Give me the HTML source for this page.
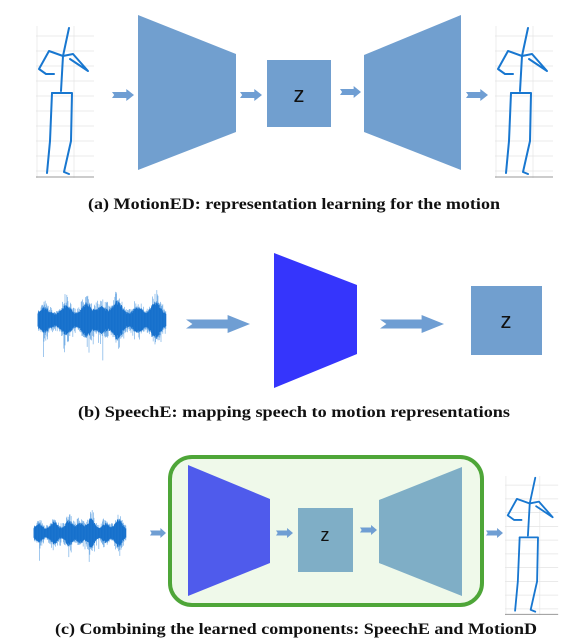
<!DOCTYPE html>
<html><head><meta charset="utf-8"><style>
html,body{margin:0;padding:0;background:#fff;width:580px;height:644px;overflow:hidden}
svg{display:block}
.cap{font-family:"Liberation Serif",serif;font-weight:bold;font-size:16px;fill:#111}
.z{font-family:"Liberation Sans",sans-serif;font-size:22px;fill:#111}
</style></head><body>
<svg id="s" width="580" height="644" viewBox="0 0 580 644" xmlns="http://www.w3.org/2000/svg">
<defs>
<symbol id="skel" viewBox="0 0 60 155" overflow="visible">
  <g stroke="#e4e4e4" stroke-width="0.7">
    <line x1="0" y1="10" x2="58" y2="10"/><line x1="0" y1="25" x2="58" y2="25"/><line x1="0" y1="40" x2="58" y2="40"/>
    <line x1="0" y1="55" x2="58" y2="55"/><line x1="0" y1="70" x2="58" y2="70"/><line x1="0" y1="85" x2="58" y2="85"/>
    <line x1="0" y1="100" x2="58" y2="100"/><line x1="0" y1="115" x2="58" y2="115"/><line x1="0" y1="130" x2="58" y2="130"/>
    <line x1="0" y1="145" x2="58" y2="145"/><line x1="1" y1="0" x2="1" y2="152"/><line x1="38" y1="0" x2="38" y2="152"/>
  </g>
  <line x1="0" y1="151" x2="58" y2="151" stroke="#999" stroke-width="1"/>
  <g stroke="#1877d0" stroke-width="2" fill="none" stroke-linecap="round" stroke-linejoin="round">
    <polyline points="33,2 27,30 25,65"/>
    <polyline points="27,30 13,25 3,43 10,48 18,48"/>
    <polyline points="27,30 37,28 52,45 40,37 34,33"/>
    <polyline points="16,67 36,67 35,115 28,146 33,148"/>
    <polyline points="16,67 14,115 11,147"/>
  </g>
</symbol>
<symbol id="arr" viewBox="0 0 20 10" preserveAspectRatio="none">
  <polygon points="0,2.5 13,2.5 13,0 20,5 13,10 13,7.5 0,7.5 2,5" fill="#6f9ed3"/>
</symbol>
</defs>

<!-- (a) -->
<use href="#skel" x="36" y="26" width="60" height="155"/>
<use href="#arr" x="112" y="89" width="22" height="12"/>
<polygon points="138,15 236,54 236,132 138,170" fill="#719fcf"/>
<use href="#arr" x="240" y="89" width="22" height="12"/>
<rect x="267" y="60" width="64" height="67" fill="#719fcf"/>
<text class="z" x="299" y="102" text-anchor="middle">z</text>
<use href="#arr" x="340" y="86" width="21" height="12"/>
<polygon points="364,55 461,15 461,170 364,132" fill="#719fcf"/>
<use href="#arr" x="466" y="89" width="22" height="12"/>
<use href="#skel" x="495" y="26" width="60" height="155"/>
<text class="cap" x="88" y="209" textLength="412" lengthAdjust="spacingAndGlyphs">(a) MotionED: representation learning for the motion</text>

<!-- (b) -->
<g id="w1"></g>
<use href="#arr" x="186" y="315" width="64" height="18"/>
<polygon points="274,253 357,285 357,354 274,388" fill="#3535fc"/>
<use href="#arr" x="380" y="315" width="64" height="18"/>
<rect x="471" y="286" width="71" height="69" fill="#719fcf"/>
<text class="z" x="506" y="328" text-anchor="middle">z</text>
<text class="cap" x="78" y="417" textLength="432" lengthAdjust="spacingAndGlyphs">(b) SpeechE: mapping speech to motion representations</text>

<!-- (c) -->
<rect x="170" y="457" width="312" height="148" rx="22" fill="#eff9ea" stroke="#4ea638" stroke-width="4"/>
<g id="w2"></g>
<use href="#arr" x="150" y="528" width="16" height="10"/>
<polygon points="188,465 270,499 270,563 188,596" fill="#4f5bec"/>
<use href="#arr" x="276" y="528" width="17" height="10"/>
<rect x="298" y="508" width="55" height="64" fill="#7faec6"/>
<text class="z" x="325" y="541" text-anchor="middle" style="font-size:18px">z</text>
<use href="#arr" x="360" y="525" width="17" height="10"/>
<polygon points="379,500 462,467 462,596 379,563" fill="#7faec6"/>
<use href="#arr" x="486" y="528" width="17" height="10"/>
<use href="#skel" x="505" y="472" width="55" height="150"/>
<text class="cap" x="55" y="634" textLength="482" lengthAdjust="spacingAndGlyphs">(c) Combining the learned components: SpeechE and MotionD</text>
</svg>
<script>
function wave(id,x0,x1,cy,amp){
  var g=document.getElementById(id),s=11,out='';
  function r(){s=(s*16807)%2147483647;return s/2147483647;}
  var bumps=[[0.05,0.5],[0.22,0.7],[0.38,0.85],[0.5,0.6],[0.62,1.0],[0.78,0.55],[0.92,0.95]];
  for(var x=x0;x<=x1;x+=0.6){
    var t=(x-x0)/(x1-x0),env=0.3;
    for(var i=0;i<bumps.length;i++){var d=(t-bumps[i][0])/0.05;env+=bumps[i][1]*0.7*Math.exp(-d*d);}
    var core=amp*0.55*env*(0.75+0.25*r());
    var up=core*(1+0.8*Math.pow(r(),2)), dn=core*(1+0.9*Math.pow(r(),2));
    if(r()<0.03) dn*=1.7;
    out+='<line x1="'+x.toFixed(1)+'" y1="'+(cy-up).toFixed(1)+'" x2="'+x.toFixed(1)+'" y2="'+(cy+dn).toFixed(1)+'" stroke="#3b8ddc" stroke-width="0.8" opacity="0.6"/>';
    out+='<line x1="'+x.toFixed(1)+'" y1="'+(cy-core).toFixed(1)+'" x2="'+x.toFixed(1)+'" y2="'+(cy+core).toFixed(1)+'" stroke="#1670cc" stroke-width="0.9"/>';
  }
  g.innerHTML=out;
}
wave('w1',38,166,320,36);
wave('w2',34,126,533,27);
</script>
</body></html>
